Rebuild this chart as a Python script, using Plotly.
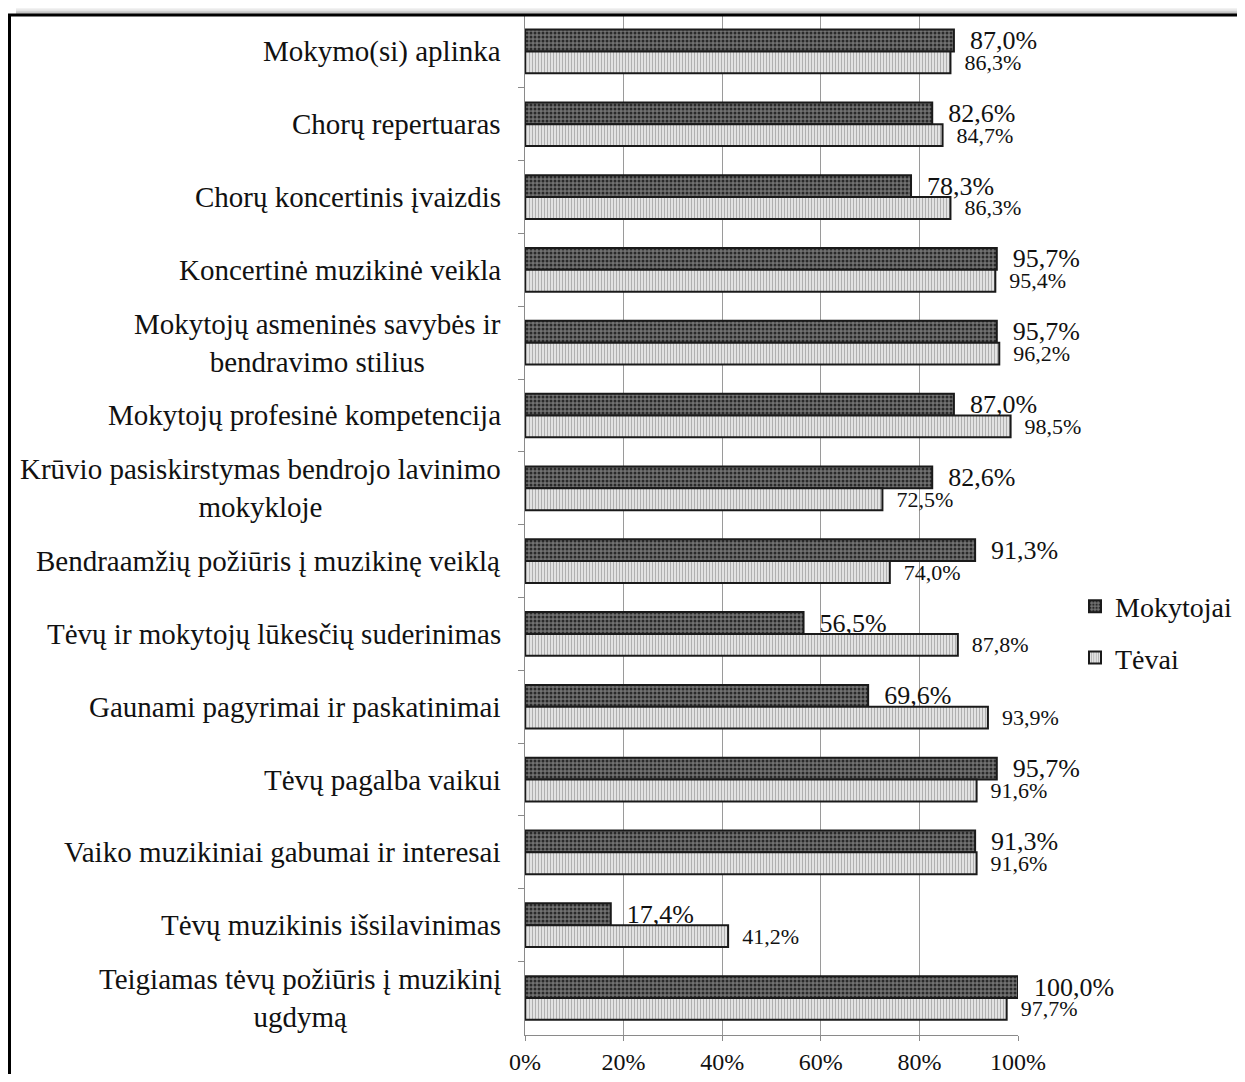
import plotly.graph_objects as go

categories = [
    "Mokymo(si) aplinka",
    "Chorų repertuaras",
    "Chorų koncertinis įvaizdis",
    "Koncertinė muzikinė veikla",
    "Mokytojų asmeninės savybės ir<br>bendravimo stilius",
    "Mokytojų profesinė kompetencija",
    "Krūvio pasiskirstymas bendrojo lavinimo<br>mokykloje",
    "Bendraamžių požiūris į muzikinę veiklą",
    "Tėvų ir mokytojų lūkesčių suderinimas",
    "Gaunami pagyrimai ir paskatinimai",
    "Tėvų pagalba vaikui",
    "Vaiko muzikiniai gabumai ir interesai",
    "Tėvų muzikinis išsilavinimas",
    "Teigiamas tėvų požiūris į muzikinį<br>ugdymą",
]
mokytojai = [87.0, 82.6, 78.3, 95.7, 95.7, 87.0, 82.6, 91.3, 56.5, 69.6, 95.7, 91.3, 17.4, 100.0]
tevai = [86.3, 84.7, 86.3, 95.4, 96.2, 98.5, 72.5, 74.0, 87.8, 93.9, 91.6, 91.6, 41.2, 97.7]
x_ticks = [0, 20, 40, 60, 80, 100]
x_tick_labels = ["0%", "20%", "40%", "60%", "80%", "100%"]

FONT = "Liberation Serif, Times New Roman, serif"

# page body margin offset (8px) compensation
OFF = 8
W, H = 1245 - 2 * OFF, 1082 - 2 * OFF
# plot area in reference pixels
PL, PR, PT, PB = 525, 1018, 15, 1035
ML = PL - OFF
MR = (OFF + W) - PR
MT = PT - OFF
MB = (OFF + H) - PB


def fmt(v, pad):
    return "\u00a0" * pad + f"{v:.1f}".replace(".", ",") + "%"


fig = go.Figure()
fig.add_trace(go.Bar(
    name="Mokytojai", y=categories, x=mokytojai, orientation="h",
    legendgroup="m",
    marker=dict(
        color="#6c6c6c",
        line=dict(color="#1a1a1a", width=2),
        pattern=dict(shape=".", bgcolor="#727272", fgcolor="#2a2a2a",
                     size=4, solidity=0.45, fillmode="replace"),
    ),
    text=[fmt(v, 2) for v in mokytojai], textposition="outside",
    textfont=dict(family=FONT, size=26, color="#111"),
    cliponaxis=False, constraintext="none",
))
fig.add_trace(go.Bar(
    name="Tėvai", y=categories, x=tevai, orientation="h",
    legendgroup="t",
    marker=dict(
        color="#e0e0e0",
        line=dict(color="#1a1a1a", width=2),
        pattern=dict(shape="|", bgcolor="#e8e8e8", fgcolor="#b0b0b0",
                     size=3, solidity=0.4, fillmode="replace"),
    ),
    text=[fmt(v, 2) for v in tevai], textposition="outside",
    textfont=dict(family=FONT, size=22, color="#111"),
    cliponaxis=False, constraintext="none",
))

# category labels (centered multi-line)
for c in categories:
    fig.add_annotation(
        x=0, xref="paper", y=c, yref="y", text=c, showarrow=False,
        xanchor="right", yanchor="middle", xshift=-22, align="center",
        font=dict(family=FONT, size=29, color="#111"),
    )

pw = PR - PL
ph = PB - PT


def px_x(p):
    return (p - PL) / pw


def px_y(p):
    return (PB - p) / ph


shapes = []
# frame shadow
for yy, col in [(OFF + 0.5, "#f2f2f2"), (OFF + 2, "#e4e4e4"), (OFF + 3.5, "#d0d0d0"), (OFF + 5, "#b4b4b4")]:
    shapes.append(dict(type="line", xref="paper", yref="paper",
                       x0=px_x(16), x1=px_x(1400), y0=px_y(yy), y1=px_y(yy),
                       line=dict(color=col, width=1.6)))
# frame
shapes.append(dict(type="rect", xref="paper", yref="paper",
                   x0=px_x(9.5), x1=px_x(1400), y0=px_y(1300), y1=px_y(15),
                   line=dict(color="#000", width=3)))

fig.update_layout(
    width=W, height=H,
    margin=dict(l=ML, r=MR, t=MT, b=MB, autoexpand=False),
    paper_bgcolor="white", plot_bgcolor="white",
    barmode="group", bargap=0.4, bargroupgap=0,
    shapes=shapes,
    showlegend=True,
    legend=dict(x=px_x(1075), y=px_y(632), xanchor="left", yanchor="middle",
                font=dict(family=FONT, size=28, color="#111"),
                traceorder="grouped", tracegroupgap=12,
                bgcolor="rgba(0,0,0,0)"),
    font=dict(family=FONT, color="#111"),
)
fig.update_xaxes(
    range=[0, 100], tickvals=x_ticks, ticktext=x_tick_labels,
    showgrid=True, gridcolor="#9a9a9a", gridwidth=1,
    showline=True, linecolor="#8a8a8a", linewidth=1,
    ticks="outside", ticklen=5, tickcolor="#8a8a8a",
    tickfont=dict(family=FONT, size=24, color="#111"),
    zeroline=False,
)
fig.update_yaxes(
    autorange="reversed", showticklabels=False,
    showline=True, linecolor="#8a8a8a", linewidth=1,
    ticks="outside", ticklen=6, tickcolor="#8a8a8a", tickson="boundaries",
    showgrid=False,
)

fig.write_html("out.html")
